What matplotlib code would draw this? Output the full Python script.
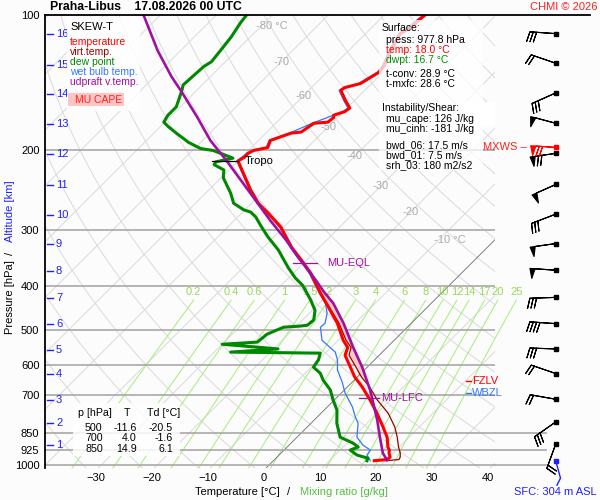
import numpy as np
import matplotlib
matplotlib.use('Agg')
import matplotlib.pyplot as plt
from matplotlib.patches import Rectangle
from matplotlib.ticker import NullLocator

plt.rcParams['font.family'] = ['Liberation Sans', 'DejaVu Sans']

W, H = 600, 500

# ---------------- data ----------------
p_temp = [977.8, 972, 960, 941, 926, 912, 867, 824, 767, 717, 671, 638, 606, 570, 548, 528,
          484, 453, 415, 374, 350, 328, 296, 275, 262, 245, 224, 211, 207, 203, 200, 197,
          190, 183, 182, 174, 173, 169, 167, 164, 161, 155, 147, 145, 142, 134, 130, 120,
          110, 106, 102, 100]
temp = [18.0, 20.1, 20.2, 19.3, 18.8, 18.0, 16.1, 13.6, 10.0, 6.4, 2.7, -0.4, -3.0, -6.1, -7.0, -9.1,
        -13.2, -16.8, -21.6, -27.0, -31.0, -35.0, -40.5, -45.4, -48.8, -52.5, -57.0, -60.0, -59.5, -59.6, -59.1, -57.1,
        -57.9, -55.5, -53.9, -53.2, -50.9, -50.7, -51.1, -49.8, -49.5, -51.6, -54.3, -54.1, -52.0, -50.7, -50.9, -52.5,
        -53.8, -53.0, -52.9, -52.7]
virt_temp = [20.1, 22.2, 22.0, 21.3, 20.6, 19.9, 17.9, 15.7, 12.0, 7.7, 4.0, 0.8, -2.0, -5.4, -6.4, -8.6,
             -12.9, -16.6, -21.5, -26.9, -30.9, -34.9, -40.4, -45.3, -48.7, -52.4, -56.9, -59.9, -59.4, -59.5, -59.0, -57.0,
             -57.8, -55.4, -53.8, -53.1, -50.8, -50.6, -51.0, -49.7, -49.4, -51.5, -54.2, -54.0, -51.9, -50.6, -50.8, -52.4,
             -53.7, -52.9, -52.8, -52.6]

p_dewp = [977.8, 965, 950, 926, 912, 894, 867, 807, 755, 717, 681, 648, 625, 606, 584, 564, 561, 552, 547, 539,
          533, 512, 494, 491, 489, 476, 453, 430, 409, 398, 384, 365, 350, 333, 321, 311, 293, 281, 274, 271,
          262, 249, 230, 221, 215, 212, 208, 200, 198, 192, 188, 183, 177, 173, 167, 160, 148, 143, 136, 130,
          127, 120, 112, 104, 100]
dewp = [16.7, 16.4, 13.9, 11.8, 12.7, 11.1, 7.7, 4.6, 2.3, -0.2, -2.5, -5.5, -7.3, -9.6, -10.0, -10.9, -27.1, -19.2, -23.2, -30.0,
        -24.1, -23.8, -22.1, -19.3, -18.2, -18.0, -19.5, -22.1, -24.8, -26.3, -28.8, -31.8, -34.1, -36.8, -39.1, -41.1, -44.5, -46.8, -48.6, -50.2,
        -53.2, -55.5, -59.6, -60.9, -63.6, -63.8, -61.4, -66.3, -68.9, -72.1, -73.8, -76.0, -78.6, -80.2, -80.7, -80.7, -82.5, -83.4, -83.2, -83.0,
        -82.5, -82.9, -83.4, -84.3, -84.6]

p_wetb = [977.8, 950, 926, 903, 867, 807, 782, 743, 692, 654, 615, 584, 561, 528, 494, 484, 460, 437, 415, 374,
          350, 328, 296, 275, 262, 245, 224, 211, 203, 200, 197, 190, 183, 174, 164, 161, 155, 147, 142, 134,
          130, 120, 110, 100]
wetb = [17.3, 15.7, 15.4, 13.2, 10.7, 8.4, 6.8, 4.5, 0.7, -1.8, -4.8, -6.6, -8.4, -12.9, -15.5, -15.4, -16.8, -18.9, -21.8, -27.3,
        -31.2, -35.2, -40.7, -45.6, -49.0, -52.7, -57.2, -60.2, -59.8, -59.3, -57.4, -58.1, -55.8, -53.5, -50.1, -49.8, -51.9, -54.6, -52.3, -51.0,
        -51.2, -52.8, -54.1, -53.0]

p_parcel = [975, 941, 867, 795, 728, 681, 606, 547, 484, 437, 411, 388, 359, 345, 316, 286, 262, 233, 210, 190,
            169, 148, 137, 120, 100]
parcel = [20.2, 18.2, 14.8, 11.3, 7.5, 4.6, -0.9, -6.1, -12.1, -17.5, -21.4, -24.8, -29.6, -32.1, -37.3, -43.6, -48.9, -56.0, -62.3, -68.6,
          -75.0, -82.5, -87.0, -94.1, -103.0]

p_wind = [110, 128, 149, 174, 203, 238, 277, 322, 369, 424, 485, 552, 626, 714, 802, 898]
wind_dir = [274, 289, 246, 285, 262, 246, 249, 262, 274, 268, 274, 272, 289, 280, 235, 200]
wind_spd = [30, 20, 30, 50, 70, 50, 30, 50, 50, 30, 40, 30, 20, 20, 30, 20]
mxws_p, mxws_dir, mxws_spd = 196, 274, 70
sfc_p = 977.8

isobars = [200, 300, 400, 500, 600, 700, 850, 925, 1000]
p_ticks = [100, 200, 300, 400, 500, 600, 700, 850, 925, 1000]
t_ticks = [-30, -20, -10, 0, 10, 20, 30, 40]
alt_km = list(range(1, 17))
p_alt = [903, 806, 717, 626, 555, 486, 426, 371, 322, 278, 239, 204, 175, 150, 129, 110]
mix_ratios = [0.2, 0.4, 0.6, 1, 1.5, 2, 3, 4, 6, 8, 10, 12, 14, 17, 20, 25]
mix_labels = ['0.2', '0.4', '0.6', '1', '1.5', '2', '3', '4', '6', '8', '10', '12', '14', '17', '20', '25']
iso_label_T = [-80, -70, -60, -50, -40, -30, -20, -10]
iso_label_p = [106, 127, 151, 177, 206, 240, 274, 316]
tropo_p, tropo_T = 211, -60.0
eql_p, lfc_p = 356, 710
fzlv_p, wbzl_p = 650, 690
table_rows = [('500', '-11.6', '-20.5'), ('700', '4.0', '-1.6'), ('850', '14.9', '6.1')]
surface_lines = [('Surface:', 'k'), ('press: 977.8 hPa', 'k'), ('temp: 18.0 °C', '#ff0000'),
                 ('dwpt: 16.7 °C', '#009000'), ('t-conv: 28.9 °C', 'k'), ('t-mxfc: 28.6 °C', 'k'),
                 ('Instability/Shear:', 'k'), ('mu_cape: 126 J/kg', 'k'), ('mu_cinh: -181 J/kg', 'k'),
                 ('bwd_06: 17.5 m/s', 'k'), ('bwd_01: 7.5 m/s', 'k'), ('srh_03: 180 m2/s2', 'k')]

# ---------------- geometry ----------------
K = 35.0
PREF = 1026.0
PX = 5.6  # pixels per degree


def sx(T, p):
    return np.asarray(T, dtype=float) + K * np.log(PREF / np.asarray(p, dtype=float))


def xpx(px):
    return (px - 264.0) / PX


C_T = '#ff0000'
C_TV = '#990000'
C_TD = '#008800'
C_WB = '#3377ff'
C_PA = '#a010a0'
C_GRID = '#dadada'
C_ISOB = '#a8a8a8'
C_MIX = '#a4ee78'
C_MIXL = '#99d95a'
C_BLUE = '#2020ff'

fig = plt.figure(figsize=(W / 100, H / 100), dpi=100)
fig.patch.set_facecolor('#fcfcfc')


def ftext(x, y, s, **kw):
    kw.setdefault('va', 'center')
    kw.setdefault('ha', 'left')
    return fig.text(x / W, 1 - y / H, s, **kw)


ax = fig.add_axes([45 / W, 1 - 468 / H, 450 / W, (468 - 15) / H])
ax.set_facecolor('none')
ax.set_yscale('log')
ax.set_ylim(1015, 100)
ax.set_xlim(xpx(45), xpx(495))

# isotherms
pp2 = np.array([1100.0, 90.0])
for t in range(-130, 60, 10):
    if t == 0:
        ax.plot(sx(t, pp2), pp2, color='#6a6a6a', lw=0.6, zorder=2)
    else:
        ax.plot(sx(t, pp2), pp2, color=C_GRID, lw=0.7, zorder=1)
# dry adiabats
ppd = np.geomspace(1100, 90, 80)
for th in range(230, 480, 10):
    Tda = th * (ppd / 1000.0) ** 0.2857 - 273.15
    ax.plot(sx(Tda, ppd), ppd, color=C_GRID, lw=0.7, zorder=1)


# mixing ratio lines
def td_w(w, p):
    e = w * p / (622.0 + w)
    a = np.log(e / 6.112)
    return 243.5 * a / (17.67 - a)


ppm = np.geomspace(1015, 430, 40)
for w, lab in zip(mix_ratios, mix_labels):
    ax.plot(sx(td_w(w, ppm), ppm), ppm, color=C_MIX, lw=0.7, zorder=1, clip_on=False)
    ax.text(sx(td_w(w, 430.0), 430.0), 413, lab, color=C_MIXL, fontsize=8, ha='center', va='center',
            zorder=2)

# isobars
for p in isobars:
    ax.axhline(p, color=C_ISOB, lw=1.2, zorder=2)
for p in [850, 925, 1000]:
    ax.plot([xpx(495), xpx(546)], [p, p], color=C_ISOB, lw=1.2, clip_on=False, zorder=2)
ax.plot([xpx(45), xpx(590)], [100, 100], color='k', lw=1.3, clip_on=False, zorder=8)

# isotherm labels
for t, p in zip(iso_label_T, iso_label_p):
    if t in (-80, -10):
        ax.annotate(f'{t} °C', (sx(t, p), p), xytext=(-5, 0), textcoords='offset pixels',
                    color='#aaaaaa', fontsize=8, ha='left', va='center', zorder=2)
    else:
        ax.text(sx(t, p), p, f'{t}', color='#aaaaaa', fontsize=8, ha='center', va='center', zorder=2)

# CAPE shading
pg = np.geomspace(lfc_p, eql_p, 80)


def interp_x(pq, parr, tarr):
    lp = np.log(np.asarray(parr, dtype=float))
    xx = sx(tarr, parr)
    o = np.argsort(lp)
    return np.interp(np.log(pq), lp[o], xx[o])


xa = interp_x(pg, p_parcel, parcel)
xb = interp_x(pg, p_temp, virt_temp)
ax.fill_betweenx(pg, xb, xa, where=xa > xb, color='#ffc8c8', lw=0, zorder=3)

# profiles
ax.plot(sx(wetb, p_wetb), p_wetb, color=C_WB, lw=0.9, zorder=4)
ax.plot(sx(virt_temp, p_temp), p_temp, color=C_TV, lw=0.9, zorder=5)
ax.plot(sx(dewp, p_dewp), p_dewp, color=C_TD, lw=2.2, zorder=6)
ax.plot(sx(temp, p_temp), p_temp, color=C_T, lw=2.2, zorder=6)
ax.plot(sx(parcel, p_parcel), p_parcel, color=C_PA, lw=1.9, zorder=7)

# level markers
xt = sx(tropo_T, tropo_p)
ax.plot([xt - 4.6, xt], [tropo_p, tropo_p], color='k', lw=0.9, zorder=8)
ax.text(xt + 1.2, tropo_p, 'Tropo', fontsize=8, va='center', ha='left', zorder=8)
xe = interp_x(np.array([eql_p]), p_parcel, parcel)[0]
ax.plot([xe - 1.8, xe + 2.6], [eql_p, eql_p], color=C_PA, lw=0.9, zorder=8)
ax.text(xe + 4.3, eql_p, 'MU-EQL', color=C_PA, fontsize=8, va='center', ha='left', zorder=8)
xl = interp_x(np.array([lfc_p]), p_parcel, parcel)[0]
ax.plot([xl - 2.3, xl + 1.3], [lfc_p, lfc_p], color=C_PA, lw=0.9, zorder=8)
ax.text(xl + 1.7, lfc_p, 'MU-LFC', color=C_PA, fontsize=8, va='center', ha='left', zorder=8)

# ticks
ax.set_yticks(p_ticks)
ax.set_yticklabels([str(p) for p in p_ticks])
ax.yaxis.set_minor_locator(NullLocator())
ax.tick_params(axis='y', length=0, pad=4, labelsize=8)
ax.set_xticks(t_ticks)
ax.set_xticklabels([str(t).replace('-', '\u2212') for t in t_ticks])
ax.tick_params(axis='x', length=0, pad=3.5, labelsize=8)
for s in ['top', 'right', 'bottom']:
    ax.spines[s].set_visible(False)
ax.spines['left'].set_linewidth(1.3)

# altitude ticks
ytr = ax.get_yaxis_transform()
for km, p in zip(alt_km, p_alt):
    ax.plot([2 / 450, 8 / 450], [p, p], color=C_BLUE, lw=1.0, transform=ytr, zorder=8)
    ax.text(11 / 450, p, str(km), color=C_BLUE, fontsize=8, va='center', ha='left', transform=ytr, zorder=8)

# FZLV / WBZL
ax.add_patch(Rectangle((462, 375), 46, 23, transform=None, facecolor='white', edgecolor='none', zorder=8))
for p, lab, c in [(fzlv_p, 'FZLV', C_T), (wbzl_p, 'WBZL', C_WB)]:
    ax.plot([(466 - 45) / 450, (471 - 45) / 450], [p, p], color=c, lw=1.0, transform=ytr, clip_on=False, zorder=9)
    ax.text((472 - 45) / 450, p, lab, color=c, fontsize=8, va='center', ha='left', transform=ytr, zorder=9)

# ---------------- wind barbs ----------------
axb = fig.add_axes([500 / W, 1 - 468 / H, 100 / W, (468 - 15) / H])
axb.set_yscale('log')
axb.set_ylim(1015, 100)
axb.set_xlim(0, 100)
axb.axis('off')
xb0 = 55.7
wd = np.deg2rad(wind_dir)
ws = np.array(wind_spd, dtype=float)
u = -ws * np.sin(wd)
v = -ws * np.cos(wd)
bk = dict(length=6.1, pivot='tip', barb_increments=dict(half=5, full=10, flag=50), flip_barb=True,
          sizes=dict(spacing=0.13, height=0.38, width=0.2, emptybarb=0), clip_on=False)
axb.barbs(np.full(len(p_wind), xb0), p_wind, u, v, color='k', linewidth=0.8, **bk)
axb.plot(np.full(len(p_wind), xb0), p_wind, 's', color='k', ms=2.2, clip_on=False)
mr = np.deg2rad(mxws_dir)
axb.barbs([xb0], [mxws_p], [-mxws_spd * np.sin(mr)], [-mxws_spd * np.cos(mr)], color='#ff0000',
          linewidth=0.8, zorder=5, **bk)
axb.plot([xb0], [mxws_p], 's', color='#ff0000', ms=2.2, clip_on=False, zorder=6)
axb.plot([xb0], [sfc_p], 's', color=C_BLUE, ms=2.2, clip_on=False)
axb.plot([xb0, 60.5, 57], [sfc_p, 1000 * np.exp(-(465 - 482) / 195.4) * 0.98, 1000 * np.exp(-(465 - 485) / 195.4)],
         color=C_BLUE, lw=1.0, clip_on=False)

# ---------------- texts / boxes ----------------
ftext(50, 7, 'Praha-Libus    17.08.2026 00 UTC', fontsize=8.8, fontweight='bold')
ftext(597, 7, 'CHMI © 2026', color='#ff2020', fontsize=8, ha='right')

fig.patches.append(Rectangle((67 / W, 1 - 111 / H), 73 / W, 94 / H, transform=fig.transFigure,
                             facecolor='white', edgecolor='none', alpha=0.85, zorder=3))
ftext(70, 27, 'SKEW-T', fontsize=8, zorder=4)
for yy, s, c in [(42, 'temperature', C_T), (52, 'virt.temp.', C_TV), (62, 'dew point', C_TD),
                 (72, 'wet bulb temp.', C_WB), (82, 'udpraft v.temp.', C_PA)]:
    ftext(70, yy, s, color=c, fontsize=7.5, zorder=4)
fig.patches.append(Rectangle((68 / W, 1 - 106 / H), 56 / W, 13 / H, transform=fig.transFigure,
                             facecolor='#ffc4c4', edgecolor='none', zorder=4))
ftext(75, 100, 'MU CAPE', color='#ff2020', fontsize=7.5, zorder=5)

fig.patches.append(Rectangle((379 / W, 1 - 170 / H), 104 / W, 150 / H, transform=fig.transFigure,
                             facecolor='white', edgecolor='none', alpha=0.75, zorder=3))
ys = [28, 40, 50, 60, 74, 84, 108, 119, 129, 145, 155, 165]
for yy, (s, c) in zip(ys, surface_lines):
    xx = 382 if s.endswith(':') else 386
    ftext(xx, yy, s, color=c, fontsize=7.5, zorder=4)

ftext(483, 147, 'MXWS \u2013', color='#ff2020', fontsize=8, zorder=4)

fig.patches.append(Rectangle((73 / W, 1 - 456 / H), 107 / W, 53 / H, transform=fig.transFigure,
                             facecolor='white', edgecolor='none', alpha=0.85, zorder=3))
ftext(78, 413, 'p [hPa]', fontsize=7.7, zorder=4)
ftext(127, 413, 'T', fontsize=7.7, ha='center', zorder=4)
ftext(147, 413, 'Td [°C]', fontsize=7.7, zorder=4)
for yy, (a, b, c) in zip([428, 438, 449], table_rows):
    ftext(85, yy, a, fontsize=7.7, zorder=4)
    ftext(137, yy, b, fontsize=7.7, ha='right', zorder=4)
    ftext(173, yy, c, fontsize=7.7, ha='right', zorder=4)

ftext(280, 492, 'Temperature [°C]', fontsize=8, ha='right')
ftext(289, 492, '/', fontsize=8, ha='center')
ftext(300, 492, 'Mixing ratio [g/kg]', fontsize=8, color='#55c040')
ftext(10, 297, 'Pressure [hPa]', fontsize=8, rotation=90, ha='center')
ftext(10, 253, '/', fontsize=8, rotation=90, ha='center')
ftext(10, 211, 'Altitude [km]', fontsize=8, rotation=90, ha='center', color=C_BLUE)
ftext(597, 492, 'SFC: 304 m ASL', fontsize=8, ha='right', color=C_BLUE)

fig.savefig('out.png', dpi=100, facecolor=fig.get_facecolor())
